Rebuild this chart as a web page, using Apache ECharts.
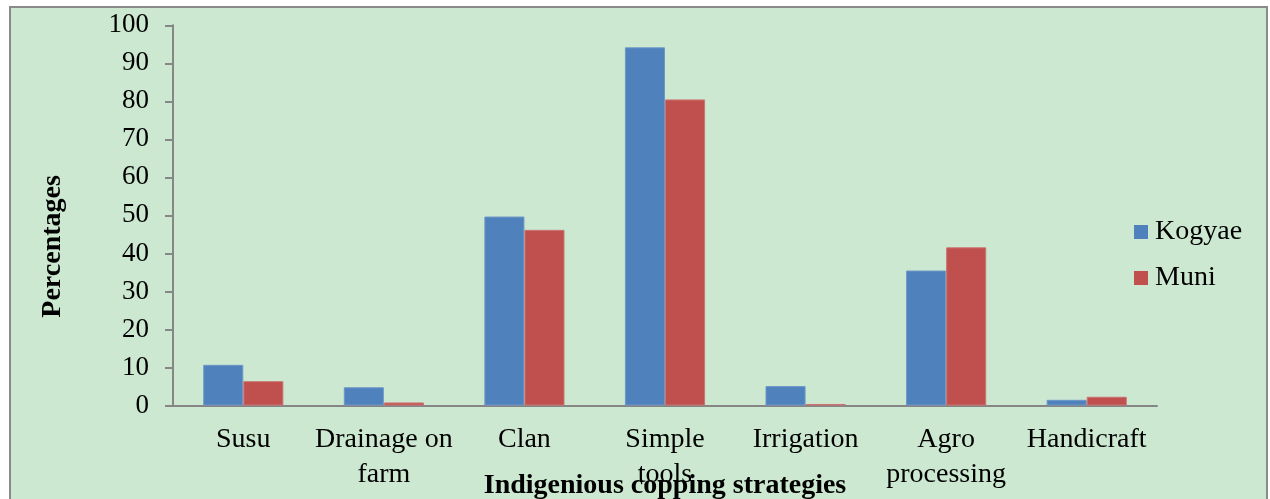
<!DOCTYPE html>
<html>
<head>
<meta charset="utf-8">
<script src="https://cdn.jsdelivr.net/npm/echarts@6/dist/echarts.min.js"></script>
<style>
html,body{margin:0;padding:0;background:#ffffff;}
#chart{width:1270px;height:499px;}
</style>
</head>
<body>
<div id="chart"></div>
<script>
const categories = ['Susu', 'Drainage on\nfarm', 'Clan', 'Simple\ntools', 'Irrigation', 'Agro\nprocessing', 'Handicraft'];
const kogyae = [10.7, 4.8, 49.7, 94.2, 5.1, 35.5, 1.5];
const muni = [6.4, 0.8, 46.2, 80.5, 0.4, 41.6, 2.3];
const seriesNames = ['Kogyae', 'Muni'];
const yTicks = [0, 10, 20, 30, 40, 50, 60, 70, 80, 90, 100];

const font = 'Liberation Serif, Times New Roman, serif';
const chart = echarts.init(document.getElementById('chart'), null, {renderer: 'canvas'});
chart.setOption({
  animation: false,
  backgroundColor: 'transparent',
  graphic: [{
    type: 'rect', z: -10, silent: true,
    shape: {x: 10, y: 7, width: 1257, height: 600},
    style: {fill: '#cce8d0', stroke: '#8a8a8a', lineWidth: 2}
  }],
  grid: {left: 173, right: 113, top: 25.3, bottom: 93.5, containLabel: false, outerBoundsMode: 'none'},
  legend: {
    orient: 'vertical', left: 1134, top: 218, padding: 0,
    itemWidth: 14, itemHeight: 14, itemGap: 18,
    icon: 'rect',
    itemStyle: {borderWidth: 0},
    textStyle: {fontFamily: font, fontSize: 28, color: '#000', padding: [0, 0, 0, 2]},
    data: seriesNames
  },
  xAxis: {
    type: 'category', data: categories,
    axisLine: {lineStyle: {color: '#868686', width: 2}},
    axisTick: {show: false},
    axisLabel: {fontFamily: font, fontSize: 28, color: '#000', lineHeight: 35, margin: 17, interval: 0},
    name: 'Indigenious copping strategies',
    nameLocation: 'middle', nameGap: 80, nameMoveOverlap: false,
    nameTextStyle: {fontFamily: font, fontSize: 28, fontWeight: 'bold', color: '#000', verticalAlign: 'middle'}
  },
  yAxis: {
    type: 'value', min: yTicks[0], max: yTicks[yTicks.length - 1], interval: 10,
    axisLine: {show: true, lineStyle: {color: '#868686', width: 2}},
    axisTick: {show: true, length: 8, lineStyle: {color: '#868686', width: 2}},
    splitLine: {show: false},
    axisLabel: {fontFamily: font, fontSize: 27, color: '#000', margin: 24, padding: [5, 0, 0, 0]},
    name: 'Percentages', nameLocation: 'middle', nameGap: 120, nameRotate: 90, nameMoveOverlap: false,
    nameTextStyle: {fontFamily: font, fontSize: 28, fontWeight: 'bold', color: '#000', verticalAlign: 'middle', padding: [0, 62, 0, 0]}
  },
  series: [
    {name: seriesNames[0], type: 'bar', data: kogyae, barGap: '0%', barCategoryGap: '43%',
     itemStyle: {color: '#4f81bd', borderColor: '#6f97c8', borderWidth: 1}},
    {name: seriesNames[1], type: 'bar', data: muni, barGap: '0%', barCategoryGap: '43%',
     itemStyle: {color: '#c0504d', borderColor: '#cc7370', borderWidth: 1}}
  ]
});
</script>
</body>
</html>
